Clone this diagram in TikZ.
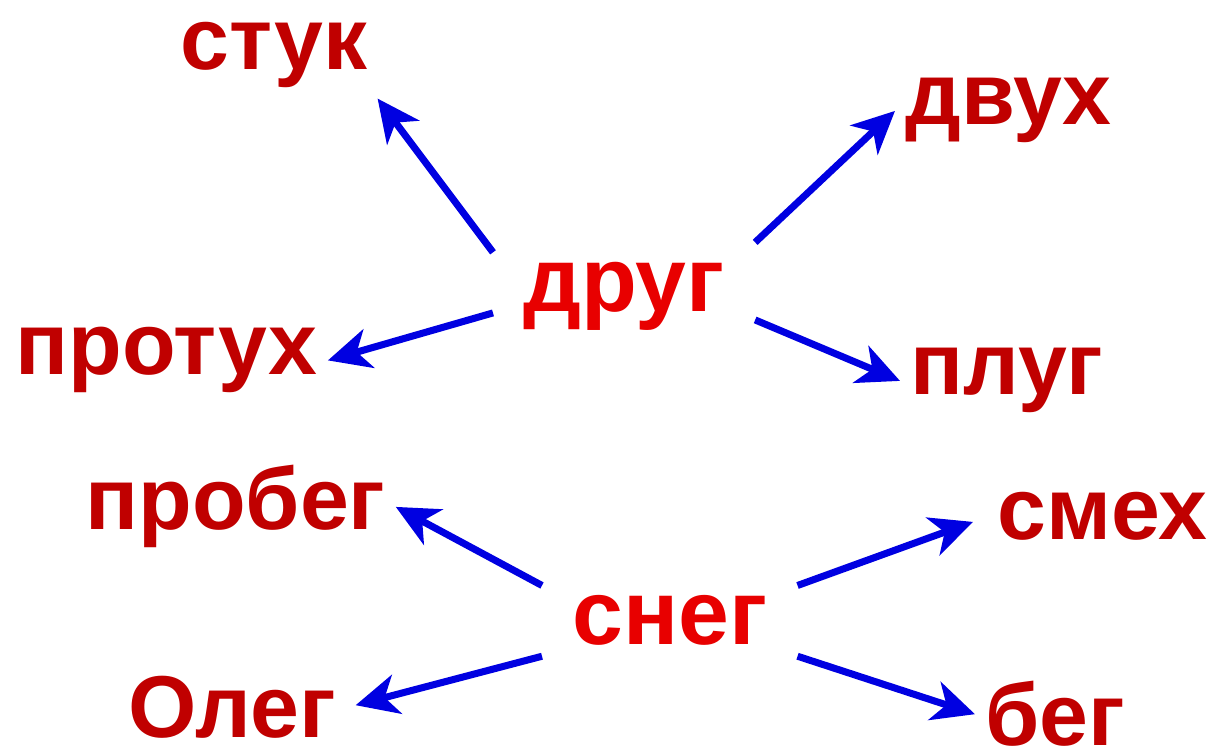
\documentclass[tikz,border=0pt]{standalone}
\usepackage{fontspec}
\setmainfont{Liberation Sans}
\usetikzlibrary{arrows.meta}
\definecolor{wordred}{RGB}{192,0,0}
\definecolor{rootred}{RGB}{232,0,0}
\definecolor{arrowblue}{RGB}{0,0,225}

\begin{document}
\begin{tikzpicture}[x=0.02cm,y=-0.02cm,
    word/.style={anchor=base west,inner sep=0.2cm,text=wordred,
      font=\fontsize{50}{50}\selectfont\bfseries},
    root/.style={word,inner xsep=0.6cm,text=rootred,
      font=\fontsize{52}{52}\selectfont\bfseries},
    link/.style={arrowblue,line width=4pt,
      -{Stealth[length=0.85cm,width=0.8cm,inset=0.25cm]}}]
    % Fix the page
    \useasboundingbox (0,0) rectangle (1218,749);

    % The first word and its rhymes
    \node [root] (drug)   at (493,312) {друг};
    \node [word] (stuk)   at (170,70)  {стук};
    \node [word] (dvuh)   at (895,125) {двух};
    \node [word] (protuh) at (5,375)   {протух};
    \node [word] (plug)   at (900,395) {плуг};

    % The second word and its rhymes
    \node [root] (sneg)   at (542,645) {снег};
    \node [word] (probeg) at (75,530)  {пробег};
    \node [word] (smeh)   at (987,540) {смех};
    \node [word] (oleg)   at (118,738) {Олег};
    \node [word] (beg)    at (975,746) {бег};

    % Draw the arrows
    \draw [link] (drug.north west) -- (stuk.south east);
    \draw [link] ([yshift=0.2cm]drug.north east) -- (dvuh.west);
    \draw [link] (drug.187)        -- (protuh.east);
    \draw [link] (drug.-10)        -- (plug.west);
    \draw [link] (sneg.north west) -- (probeg.east);
    \draw [link,shorten >=0.3cm] (sneg.north east) -- (smeh.west);
    \draw [link,shorten >=0.2cm] (sneg.south west) -- (oleg.east);
    \draw [link] (sneg.south east) -- (beg.west);
\end{tikzpicture}
\end{document}
